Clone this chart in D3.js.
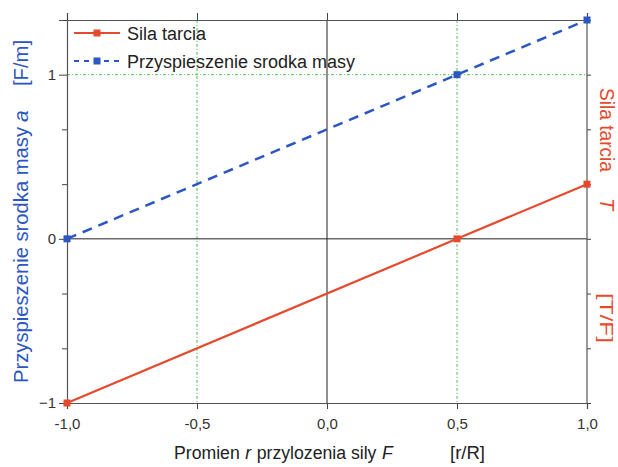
<!DOCTYPE html>
<html lang="pl">
<head>
  <meta charset="utf-8" />
  <title>Sila tarcia i przyspieszenie</title>
  <script src="https://cdn.jsdelivr.net/npm/d3@7"></script>
  <style>
    body { margin:0; background:#fff; font-family:"Liberation Sans", Arial, sans-serif; }
    svg text { font-family:"Liberation Sans", Arial, sans-serif; }
  </style>
</head>
<body>
<div id="chart"></div>
<script>
(function () {

  // --- data ----------------------------------------------------------------
  const rValues   = [-1, 0.5, 1];          // r/R
  const friction  = [-1, 0, 0.333];        // T/F
  const accel     = [0, 1, 1.333];         // a [F/m]
  const xTicks    = [-1, -0.5, 0, 0.5, 1];
  const xTickText = ["-1,0", "-0,5", "0,0", "0,5", "1,0"];
  const yMajor    = [-1, 0, 1];
  const yMinor    = [-0.667, -0.333, 0.333, 0.667, 1.333];
  const seriesNames = ["Sila tarcia", "Przyspieszenie srodka masy"];

  // --- layout --------------------------------------------------------------
  const W = 618, H = 467;
  const margin = {top:20, right:31, bottom:64, left:67};
  const innerW = W - margin.left - margin.right;
  const innerH = H - margin.top - margin.bottom;

  const red = "#e64a2e", blue = "#2c57c2", green = "#4cc04c";

  const svg = d3.select("#chart").append("svg")
    .attr("width", W).attr("height", H);
  const g = svg.append("g")
    .attr("transform", `translate(${margin.left},${margin.top})`);

  const x = d3.scaleLinear().domain([-1, 1]).range([0, innerW]);
  const y = d3.scaleLinear().domain([-1, 1.333]).range([innerH, 0]);

  // green dotted grid
  g.selectAll(".vgrid").data([-0.5, 0.5]).join("line")
    .attr("x1", d => x(d)).attr("x2", d => x(d))
    .attr("y1", 0).attr("y2", innerH)
    .attr("stroke", green).attr("stroke-width", 1).attr("stroke-dasharray", "3 2 1 2");
  g.append("line")
    .attr("x1", 0).attr("x2", innerW).attr("y1", y(1)).attr("y2", y(1))
    .attr("stroke", green).attr("stroke-width", 1).attr("stroke-dasharray", "3 2 1 2");

  // zero lines
  g.append("line").attr("x1", x(0)).attr("x2", x(0)).attr("y1", 0).attr("y2", innerH)
    .attr("stroke", "#222").attr("stroke-width", 1);
  g.append("line").attr("x1", 0).attr("x2", innerW).attr("y1", y(0)).attr("y2", y(0))
    .attr("stroke", "#222").attr("stroke-width", 1);

  // axes
  const xb = g.append("g").attr("transform", `translate(0,${innerH})`)
    .call(d3.axisBottom(x).tickValues(xTicks).tickSize(6).tickPadding(9)
      .tickFormat((d, i) => xTickText[i]));
  const xt = g.append("g")
    .call(d3.axisTop(x).tickValues(xTicks).tickSize(7).tickFormat(""));
  const yl = g.append("g")
    .call(d3.axisLeft(y).tickValues(yMajor).tickSize(8).tickPadding(3)
      .tickFormat(d3.format("d")));
  const ylm = g.append("g")
    .call(d3.axisLeft(y).tickValues(yMinor).tickSize(5).tickFormat(""));
  const yr = g.append("g").attr("transform", `translate(${innerW},0)`)
    .call(d3.axisRight(y).tickValues(yMajor.concat(yMinor)).tickSize(4).tickFormat(""));

  [xb, xt, yl, ylm, yr].forEach(a => {
    a.select(".domain").attr("stroke", "#555").attr("stroke-width", 1.2);
    a.selectAll(".tick line").attr("stroke", "#444");
    a.selectAll(".tick text").style("font-size", "15px").attr("fill", "#333");
  });
  yr.select(".domain").attr("d", `M0,0V${innerH}`);
  ylm.select(".domain").remove();

  // series
  const pts = (vals) => rValues.map((r, i) => ({r, v: vals[i]}));
  const line = d3.line().x(d => x(d.r)).y(d => y(d.v));

  g.append("path").datum(pts(friction)).attr("d", line)
    .attr("fill", "none").attr("stroke", red).attr("stroke-width", 2.2);
  g.append("path").datum(pts(accel)).attr("d", line)
    .attr("fill", "none").attr("stroke", blue).attr("stroke-width", 2.5)
    .attr("stroke-dasharray", "10 7");

  const ms = 7;
  g.selectAll(".mR").data(pts(friction)).join("rect")
    .attr("x", d => x(d.r) - ms/2).attr("y", d => y(d.v) - ms/2)
    .attr("width", ms).attr("height", ms).attr("fill", red);
  g.selectAll(".mB").data(pts(accel)).join("rect")
    .attr("x", d => x(d.r) - ms/2).attr("y", d => y(d.v) - ms/2)
    .attr("width", ms).attr("height", ms).attr("fill", blue);

  // legend
  const leg = svg.append("g").attr("transform", "translate(74,33)");
  [[red, null], [blue, "5 5"]].forEach(([c, dash], i) => {
    const row = leg.append("g").attr("transform", `translate(0,${i*28})`);
    row.append("line").attr("x1", 0).attr("x2", 46).attr("y1", 0).attr("y2", 0)
      .attr("stroke", c).attr("stroke-width", 2).attr("stroke-dasharray", dash);
    row.append("rect").attr("x", 23 - ms/2).attr("y", -ms/2).attr("width", ms).attr("height", ms).attr("fill", c);
    row.append("text").attr("x", 53).attr("y", 7).style("font-size", "18px").attr("fill", "#222")
      .text(seriesNames[i]);
  });

  // x axis title: pieces laid out one after another, slightly condensed
  const xTitle = svg.append("g").attr("transform", "translate(174,459) scale(0.93,1)");
  let cursor = 0;
  [["Promien", false], ["r", true], ["przylozenia sily", false], ["F", true]].forEach(([s, it]) => {
    const t = xTitle.append("text").attr("x", cursor)
      .style("font-size", "19px").attr("fill", "#222").text(s);
    if (it) t.attr("font-style", "italic");
    cursor += t.node().getComputedTextLength() + 6;
  });
  svg.append("text").attr("x", 450).attr("y", 459)
    .attr("textLength", 35).attr("lengthAdjust", "spacingAndGlyphs")
    .style("font-size", "19px").attr("fill", "#222").text("[r/R]");

  // rotated titles
  const vText = (tx, ty, rot, str, len, color, italic, size) => {
    const t = svg.append("text")
      .attr("transform", `translate(${tx},${ty}) rotate(${rot})`)
      .style("font-size", (size || 21) + "px").attr("fill", color).text(str);
    if (len) t.attr("textLength", len).attr("lengthAdjust", "spacingAndGlyphs");
    if (italic) t.attr("font-style", "italic");
  };
  // left title (blue)
  vText(28, 383, -90, "Przyspieszenie srodka masy", 256, blue);
  vText(28, 122, -90, "a", null, blue, true);
  vText(28, 86, -90, "[F/m]", 46, blue);

  // right title (red)
  vText(600, 88, 90, "Sila tarcia", 84, red, false, 20);
  vText(600, 198, 90, "T", null, red, true, 20);
  vText(600, 293, 90, "[T/F]", 50, red, false, 19);

})();
</script>
</body>
</html>
